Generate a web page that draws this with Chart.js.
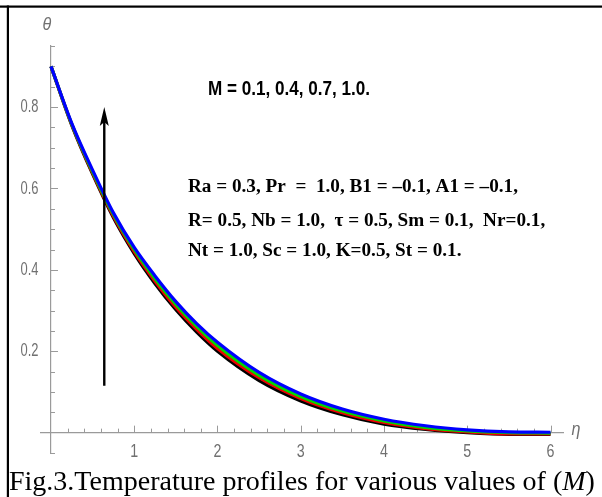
<!DOCTYPE html>
<html>
<head>
<meta charset="utf-8">
<script src="https://cdn.jsdelivr.net/npm/chart.js@4.4.0/dist/chart.umd.min.js"></script>
<style>
html, body { margin: 0; padding: 0; background: #fff; }
#wrap { position: relative; width: 602px; height: 497px; }
</style>
</head>
<body>
<div id="wrap"><canvas id="tempChart" width="602" height="497"></canvas></div>
<script>
// temperature profiles theta(eta) for M = 0.1, 0.4, 0.7, 1.0
const etaValues = [0, 0.25, 0.5, 0.75, 1, 1.25, 1.5, 1.75, 2, 2.5, 3, 3.5, 4, 4.5, 5, 5.5, 6];
const thetaM01 = [0.90, 0.755, 0.635, 0.528, 0.440, 0.366, 0.302, 0.247, 0.200, 0.128, 0.078, 0.044, 0.021, 0.008, 0.000, -0.004, -0.004];
const thetaM04 = [0.90, 0.757, 0.638, 0.532, 0.445, 0.372, 0.308, 0.254, 0.207, 0.135, 0.084, 0.049, 0.025, 0.010, 0.002, -0.003, -0.003];
const thetaM07 = [0.90, 0.758, 0.641, 0.536, 0.450, 0.378, 0.315, 0.261, 0.214, 0.141, 0.089, 0.053, 0.029, 0.013, 0.004, 0.000, -0.001];
const thetaM10 = [0.90, 0.760, 0.645, 0.540, 0.455, 0.385, 0.322, 0.268, 0.222, 0.148, 0.095, 0.058, 0.033, 0.017, 0.007, 0.002, 0.001];
const mLabels = ['0.1', '0.4', '0.7', '1.0'];
const xTickLabels = [1, 2, 3, 4, 5, 6];
const yTickLabels = [0.2, 0.4, 0.6, 0.8];
const paramLines = [
    'Ra = 0.3, Pr  =  1.0, B1 = \u20130.1, A1 = \u20130.1,',
    'R= 0.5, Nb = 1.0,  \u03c4 = 0.5, Sm = 0.1,  Nr=0.1,',
    'Nt = 1.0, Sc = 1.0, K=0.5, St = 0.1.'
];
const arrowEta = 0.64;
const arrowFrom = 0.115;
const arrowTo = 0.8;

const seriesList = [thetaM01, thetaM04, thetaM07, thetaM10];
const lineColors = ['#000000', '#ee0000', '#00d800', '#0000ff'];
const axisGray = '#9a9a9a';
const labelGray = '#707070';
const sansFont = '"Liberation Sans", Arimo, sans-serif';
const serifFont = '"Liberation Serif", "Times New Roman", serif';

// squeeze text horizontally to mimic the narrow fonts of the original
function narrowText(ctx, text, x, y, sx) {
    ctx.save();
    ctx.translate(x, y);
    ctx.scale(sx, 1);
    ctx.fillText(text, 0, 0);
    ctx.restore();
}

const decor = {
    id: 'decor',
    beforeDraw(chart) {
        const ctx = chart.ctx;
        ctx.save();
        ctx.fillStyle = '#000';
        ctx.fillRect(0, 5.5, 602, 2.2);
        ctx.fillRect(6.8, 5.5, 2.2, 497);
        ctx.restore();
    },
    beforeDatasetsDraw(chart) {
        const {ctx, scales: {x, y}} = chart;
        const x0 = x.getPixelForValue(0), y0 = y.getPixelForValue(0);
        ctx.save();
        ctx.strokeStyle = axisGray;
        ctx.lineWidth = 1;
        // x ticks, pointing up
        for (let i = 1; i <= 30; i++) {
            const px = Math.round(x.getPixelForValue(i * 0.2)) + 0.5;
            const len = i % 5 === 0 ? 7 : 4;
            ctx.beginPath();
            ctx.moveTo(px, y0);
            ctx.lineTo(px, y0 - len);
            ctx.stroke();
        }
        // y ticks, pointing right
        for (let i = -1; i <= 19; i++) {
            if (i === 0) continue;
            const py = Math.round(y.getPixelForValue(i * 0.05)) + 0.5;
            const len = i % 4 === 0 ? 7 : 4;
            ctx.beginPath();
            ctx.moveTo(x0, py);
            ctx.lineTo(x0 + len, py);
            ctx.stroke();
        }
        // tick labels
        ctx.fillStyle = labelGray;
        ctx.font = '19px ' + sansFont;
        ctx.textBaseline = 'middle';
        ctx.textAlign = 'center';
        xTickLabels.forEach(v => narrowText(ctx, String(v), x.getPixelForValue(v), 452, 0.75));
        ctx.textAlign = 'right';
        yTickLabels.forEach(v => narrowText(ctx, v.toFixed(1), 38.5, y.getPixelForValue(v), 0.68));
        ctx.restore();
    },
    afterDatasetsDraw(chart) {
        const {ctx, scales: {x, y}} = chart;
        ctx.save();
        // arrow
        const ax = x.getPixelForValue(arrowEta);
        const ay1 = y.getPixelForValue(arrowFrom);
        const ay2 = y.getPixelForValue(arrowTo);
        ctx.strokeStyle = '#000';
        ctx.fillStyle = '#000';
        ctx.lineWidth = 2.4;
        ctx.beginPath();
        ctx.moveTo(ax, ay1);
        ctx.lineTo(ax, ay2 + 14);
        ctx.stroke();
        ctx.beginPath();
        ctx.moveTo(ax, ay2);
        ctx.lineTo(ax - 4.5, ay2 + 19);
        ctx.lineTo(ax, ay2 + 15);
        ctx.lineTo(ax + 4.5, ay2 + 19);
        ctx.closePath();
        ctx.fill();

        // M values
        ctx.textBaseline = 'middle';
        ctx.textAlign = 'left';
        ctx.font = 'bold 20px ' + sansFont;
        narrowText(ctx, 'M = ' + mLabels.join(', ') + '.', 208, 89, 0.855);

        // parameters
        ctx.font = 'bold 19.2px ' + serifFont;
        [187, 221, 251].forEach((py, i) => ctx.fillText(paramLines[i], 188, py));

        // axis names
        ctx.fillStyle = labelGray;
        ctx.font = 'italic 19px ' + sansFont;
        ctx.textAlign = 'center';
        narrowText(ctx, '\u03b8', 47, 25, 0.85);
        narrowText(ctx, '\u03b7', 576, 430, 0.85);

        // caption
        ctx.fillStyle = '#000';
        ctx.textAlign = 'left';
        ctx.textBaseline = 'alphabetic';
        ctx.font = '28px ' + serifFont;
        const cap = 'Fig.3.Temperature profiles for various values of (';
        const cx = 9, cy = 490;
        ctx.fillText(cap, cx, cy);
        let w = ctx.measureText(cap).width;
        ctx.font = 'italic 28px ' + serifFont;
        ctx.fillText('M', cx + w, cy);
        w += ctx.measureText('M').width;
        ctx.font = '28px ' + serifFont;
        ctx.fillText(')', cx + w, cy);
        ctx.restore();
    }
};

const datasets = seriesList.map((s, i) => ({
    label: 'M = ' + mLabels[i],
    data: etaValues.map((e, j) => ({x: e, y: s[j]})),
    borderColor: lineColors[i],
    borderWidth: 3.2,
    pointRadius: 0,
    fill: false,
    cubicInterpolationMode: 'monotone',
    order: seriesList.length - i
}));

new Chart(document.getElementById('tempChart').getContext('2d'), {
    type: 'line',
    data: { datasets: datasets },
    options: {
        responsive: false,
        animation: false,
        layout: { padding: { left: 41, right: 39, top: 46, bottom: 44 } },
        plugins: { legend: { display: false }, tooltip: { enabled: false } },
        scales: {
            x: {
                type: 'linear', min: -0.12, max: 6.15,
                position: { y: 0 },
                grid: { display: false },
                border: { color: axisGray, width: 1.2 },
                afterBuildTicks: s => { s.ticks = xTickLabels.map(v => ({ value: v })); },
                ticks: { display: false }
            },
            y: {
                type: 'linear', min: -0.05, max: 0.95,
                position: { x: 0 },
                grid: { display: false },
                border: { color: axisGray, width: 1.2 },
                afterBuildTicks: s => { s.ticks = yTickLabels.map(v => ({ value: v })); },
                ticks: { display: false }
            }
        }
    },
    plugins: [decor]
});
</script>
</body>
</html>
